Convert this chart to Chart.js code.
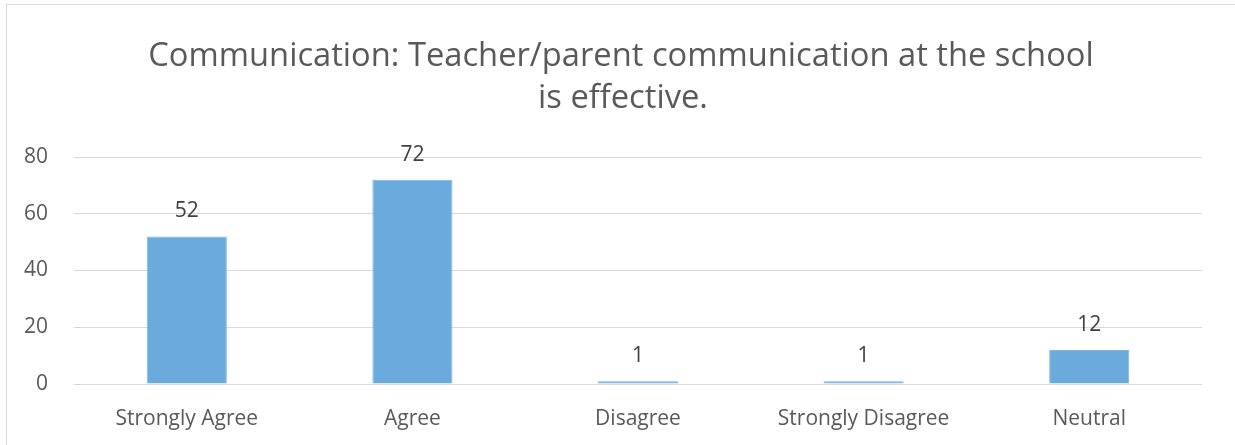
<!DOCTYPE html>
<html><head><meta charset="utf-8">
<script src="https://cdn.jsdelivr.net/npm/chart.js@4"></script>
<style>
html,body{margin:0;padding:0;background:#fff;}
#wrap{position:relative;width:1235px;height:445px;overflow:hidden;}
#frame{position:absolute;left:6px;top:4px;width:1300px;height:500px;border:1px solid #d9d9d9;box-sizing:border-box;}
canvas{position:absolute;left:0;top:0;}
</style></head><body>
<div id="wrap"><div id="frame"></div><canvas id="c" width="1235" height="445"></canvas></div>
<script>
const categories = ["Strongly Agree", "Agree", "Disagree", "Strongly Disagree", "Neutral"];
const values = [52, 72, 1, 1, 12];
const yTickValues = [0, 20, 40, 60, 80];
const titleLines = ["Communication: Teacher/parent communication at the school", "is effective."];

const FONT = '"Open Sans", "Noto Sans", sans-serif';

const titlePlugin = {
  id: 'customTitle',
  afterDraw(chart) {
    const ctx = chart.ctx;
    ctx.save();
    ctx.font = '32.7px ' + FONT;
    ctx.fillStyle = '#595959';
    ctx.textAlign = 'center';
    ctx.textBaseline = 'alphabetic';
    ctx.fillText(titleLines[0], 621, 66);
    ctx.fillText(titleLines[1], 623, 108);
    ctx.restore();
  }
};

const valueLabels = {
  id: 'valueLabels',
  afterDatasetsDraw(chart) {
    const ctx = chart.ctx;
    const meta = chart.getDatasetMeta(0);
    ctx.save();
    ctx.font = '21px ' + FONT;
    ctx.fillStyle = '#404040';
    ctx.textAlign = 'center';
    ctx.textBaseline = 'alphabetic';
    meta.data.forEach((bar, i) => {
      ctx.fillText(String(chart.data.datasets[0].data[i]), bar.x, bar.y - 19);
    });
    ctx.restore();
  }
};

new Chart(document.getElementById('c'), {
  type: 'bar',
  data: {
    labels: categories,
    datasets: [{
      data: values,
      backgroundColor: '#6aaadc',
      borderColor: '#7cb6e2',
      borderWidth: 1,
      categoryPercentage: 1,
      barPercentage: 0.355
    }]
  },
  options: {
    responsive: false,
    animation: false,
    events: [],
    layout: { padding: { top: 157, right: 33, left: 0, bottom: 0 } },
    plugins: { legend: { display: false }, title: { display: false }, tooltip: { enabled: false } },
    scales: {
      x: {
        grid: { display: false, drawTicks: false },
        border: { display: false },
        ticks: { color: '#595959', font: { family: FONT, size: 21 }, padding: 22, maxRotation: 0 },
        afterFit(s) { s.height = 61; }
      },
      y: {
        min: 0, max: 80,
        afterBuildTicks(s) { s.ticks = yTickValues.map(v => ({ value: v })); },
        grid: { color: '#d9d9d9', lineWidth: 1, drawTicks: false },
        border: { display: false },
        ticks: { color: '#595959', font: { family: FONT, size: 21 }, padding: 26 },
        afterFit(s) { s.width = 74; }
      }
    }
  },
  plugins: [titlePlugin, valueLabels]
});
</script>
</body></html>
